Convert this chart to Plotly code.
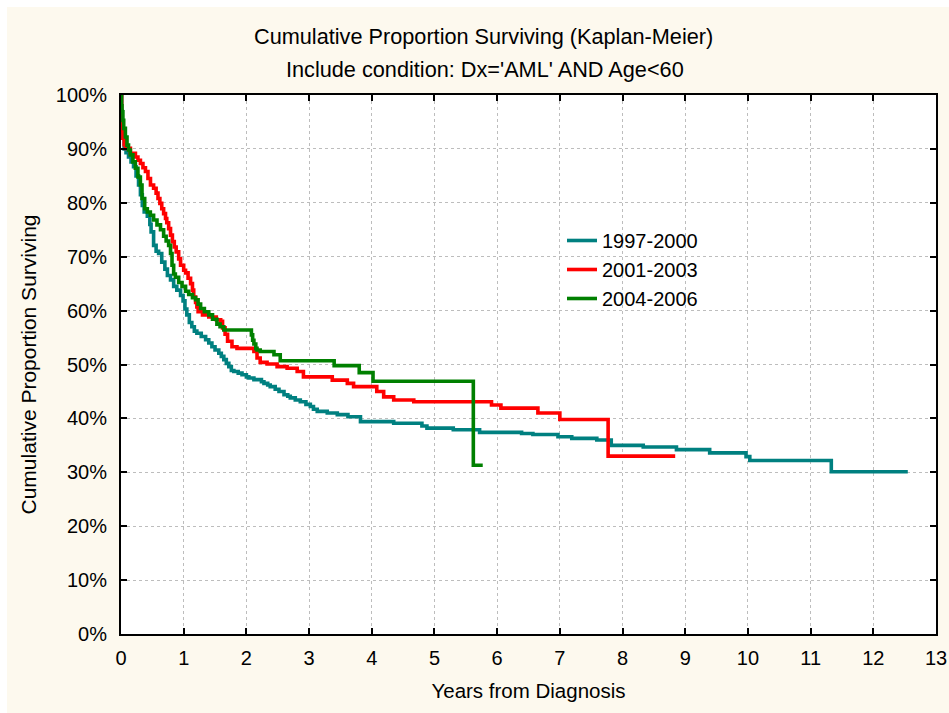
import plotly.graph_objects as go

# Kaplan-Meier step curves: event times (years) and cumulative survival (%)
t_1997 = [0, 0.01, 0.02, 0.03, 0.05, 0.08, 0.12, 0.16, 0.20, 0.24, 0.28, 0.31, 0.34, 0.37,
          0.42, 0.46, 0.48, 0.52, 0.56, 0.60, 0.65, 0.70, 0.74, 0.79, 0.84, 0.89, 0.95, 0.99,
          1.02, 1.05, 1.09, 1.13, 1.17, 1.21, 1.28, 1.35, 1.40, 1.45, 1.50, 1.56, 1.60, 1.64,
          1.68, 1.72, 1.76, 1.80, 1.87, 1.93, 2.00, 2.04, 2.12, 2.24, 2.28, 2.34, 2.38, 2.46,
          2.52, 2.60, 2.66, 2.70, 2.78, 2.86, 2.95, 3.02, 3.07, 3.13, 3.29, 3.45, 3.62, 3.82,
          4.35, 4.80, 4.88, 5.30, 5.72, 6.39, 6.57, 6.97, 7.19, 7.59, 7.82, 8.33, 8.86, 9.39,
          9.97, 10.03, 11.33, 12.55]
s_1997 = [100, 97, 94, 92, 90, 89.3, 88.5, 87.6, 86.7, 85, 83.3, 81.5, 79.5, 78.3,
          77.5, 76, 74.6, 72.1, 71, 70.6, 69, 67.7, 66.5, 65.7, 64.5, 63.8, 62.8, 61.8,
          60.3, 59.2, 57.8, 57, 56.2, 55.8, 55.2, 54.6, 54, 53.3, 52.7, 52.1, 51.5, 50.9,
          50.2, 49.6, 48.9, 48.7, 48.4, 48.1, 47.7, 47.5, 47.2, 46.8, 46.5, 46.2, 45.9, 45.4,
          45, 44.4, 44.1, 43.8, 43.4, 43.1, 42.6, 42.2, 41.7, 41.3, 41.0, 40.7, 40.3, 39.4,
          39.1, 38.6, 38.2, 37.9, 37.4, 37.2, 37.0, 36.6, 36.3, 36.0, 35.0, 34.7, 34.2, 33.6,
          32.9, 32.2, 30.1, 30.1]

t_2001 = [0, 0.01, 0.02, 0.03, 0.05, 0.07, 0.15, 0.23, 0.27, 0.31, 0.35, 0.39, 0.43, 0.47,
          0.52, 0.56, 0.59, 0.62, 0.65, 0.68, 0.71, 0.73, 0.76, 0.79, 0.82, 0.85, 0.88, 0.92,
          0.95, 1.00, 1.03, 1.07, 1.11, 1.14, 1.16, 1.19, 1.21, 1.23, 1.30, 1.40, 1.52, 1.59,
          1.62, 1.66, 1.70, 1.77, 1.85, 2.12, 2.17, 2.22, 2.33, 2.49, 2.65, 2.81, 2.91, 3.37,
          3.61, 3.71, 4.08, 4.19, 4.35, 4.67, 5.91, 6.06, 6.65, 7.00, 7.77, 8.84]
s_2001 = [100, 96, 93.5, 92, 90.8, 90.1, 89.2, 88.5, 87.9, 87.3, 86.5, 85.8, 84.5, 83.3,
          82.7, 81.8, 80.8, 79.9, 78.9, 78, 77.1, 76.3, 75.2, 74, 72.8, 71.8, 70.9, 69.6,
          68.4, 67.5, 67, 66, 65, 63.8, 62.5, 61.5, 60.7, 59.8, 59.2, 58.8, 58.3, 58.0,
          56.8, 55.6, 54.3, 53.3, 53.0, 52.4, 51.2, 50.4, 50.1, 49.6, 49.3, 48.7, 47.7, 47.1,
          46.5, 45.9, 45.0, 44.0, 43.4, 43.1, 42.5, 41.9, 41.0, 39.8, 33.0, 33.0]

t_2004 = [0, 0.008, 0.016, 0.03, 0.043, 0.07, 0.096, 0.12, 0.149, 0.19, 0.229, 0.27, 0.309,
          0.335, 0.378, 0.42, 0.468, 0.52, 0.574, 0.63, 0.68, 0.72, 0.76, 0.79, 0.814, 0.84,
          0.867, 0.92, 0.973, 1.03, 1.08, 1.14, 1.19, 1.23, 1.27, 1.33, 1.40, 1.46, 1.53,
          1.58, 1.64, 2.08, 2.10, 2.12, 2.15, 2.17, 2.22, 2.44, 2.54, 3.40, 3.80, 4.02, 5.62,
          5.77]
s_2004 = [100, 98, 96.9, 95.3, 93.8, 92.2, 90.7, 89.8, 88.9, 87.6, 86.4, 84.8, 83.3,
          80.8, 78.9, 78.3, 77.7, 76.8, 75.9, 75, 73.8, 72.9, 72.1, 70.6, 68.4, 66.8,
          66.2, 65.2, 64.5, 63.6, 63.0, 62.4, 62.0, 61.2, 60.4, 59.8, 59.2, 58.4, 57.5,
          57.0, 56.4, 55.5, 54.5, 53.8, 53.0, 52.7, 52.4, 51.8, 50.7, 49.8, 48.5, 46.9, 31.3,
          31.3]

series = [
    ("1997-2000", t_1997, s_1997, "#008080"),
    ("2001-2003", t_2001, s_2001, "#FF0000"),
    ("2004-2006", t_2004, s_2004, "#008000"),
]

x_ticks = list(range(0, 14))
y_ticks = list(range(0, 101, 10))

FONT = "Arial, Liberation Sans, sans-serif"
CREAM = "#FDF9EE"

fig = go.Figure()
for name, t, s, color in series:
    fig.add_trace(go.Scatter(
        x=t, y=s, name=name, mode="lines",
        line=dict(color=color, width=3.6, shape="hv"),
    ))

W, H = 949, 713
ML, MR, MT, MB = 121, 13, 95, 79
PW, PH = W - ML - MR, H - MT - MB


def px_x(p):
    return (p - ML) / PW


def px_y(p):
    return (H - MB - p) / PH


axis_common = dict(
    showline=True, linecolor="black", linewidth=2, mirror="ticks",
    ticks="inside", ticklen=6, tickwidth=1.5, tickcolor="black",
    showgrid=True, gridcolor="#BDBDBD", gridwidth=1, griddash="3px,3px",
    zeroline=False, tickfont=dict(family=FONT, size=20, color="black"),
)

fig.update_xaxes(
    range=[0, 13], tickvals=x_ticks, ticktext=[str(v) for v in x_ticks],
    ticklabelstandoff=5,
    title=dict(text="Years from Diagnosis", font=dict(family=FONT, size=20.5, color="black"),
               standoff=16),
    **axis_common,
)
fig.update_yaxes(
    range=[0, 100], tickvals=y_ticks, ticktext=[f"{v}%" for v in y_ticks],
    ticklabelstandoff=8,
    title=dict(text="Cumulative Proportion Surviving",
               font=dict(family=FONT, size=21, color="black"), standoff=13),
    **axis_common,
)

fig.update_layout(
    width=W, height=H,
    margin=dict(l=ML, r=MR, t=MT, b=MB, autoexpand=False),
    paper_bgcolor=CREAM, plot_bgcolor="white",
    showlegend=True,
    legend=dict(
        x=px_x(562), y=px_y(221), xanchor="left", yanchor="top",
        bgcolor="rgba(0,0,0,0)", borderwidth=0,
        font=dict(family=FONT, size=20, color="black"),
        itemwidth=30, tracegroupgap=0,
    ),
    annotations=[
        dict(text="Cumulative Proportion Surviving (Kaplan-Meier)", xref="paper", yref="paper",
             x=px_x(483), y=px_y(37), xanchor="center", yanchor="middle", showarrow=False,
             font=dict(family=FONT, size=21.7, color="black")),
        dict(text="Include condition: Dx='AML' AND Age<60", xref="paper", yref="paper",
             x=px_x(485), y=px_y(70), xanchor="center", yanchor="middle", showarrow=False,
             font=dict(family=FONT, size=21.7, color="black")),
    ],
    shapes=[
        # white frame strips along the top and left edges of the page
        dict(type="rect", xref="paper", yref="paper", layer="below",
             x0=px_x(0), x1=px_x(7), y0=px_y(H), y1=px_y(0),
             fillcolor="white", line=dict(width=0)),
        dict(type="rect", xref="paper", yref="paper", layer="below",
             x0=px_x(0), x1=px_x(W), y0=px_y(7), y1=px_y(0),
             fillcolor="white", line=dict(width=0)),
        # blank panel behind the legend labels
        dict(type="rect", xref="paper", yref="paper", layer="between",
             x0=px_x(598), x1=px_x(712), y0=px_y(312), y1=px_y(226),
             fillcolor="white", line=dict(width=0)),
    ],
)

fig.write_html("out.html")
